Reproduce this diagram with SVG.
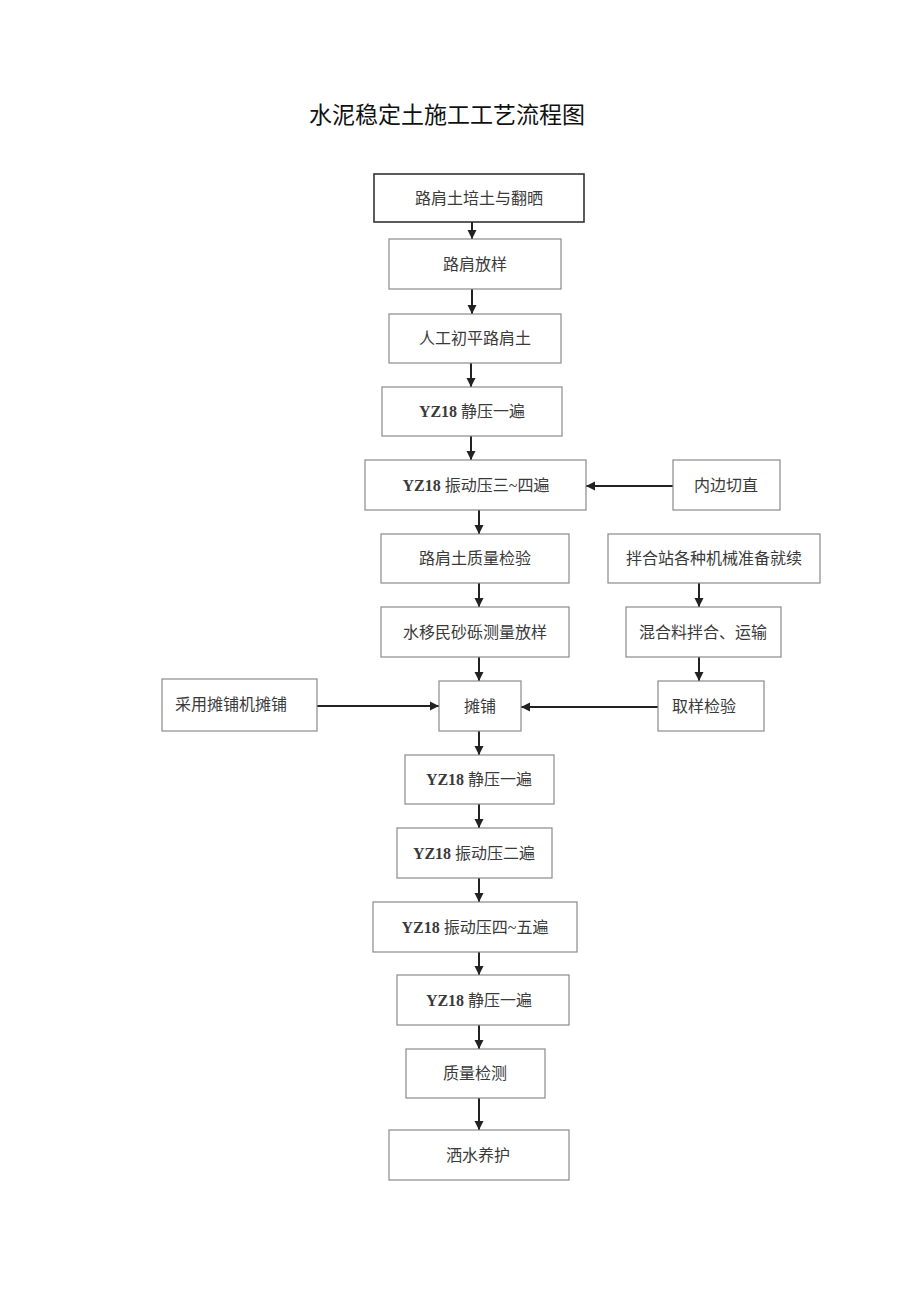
<svg xmlns="http://www.w3.org/2000/svg" width="920" height="1301" viewBox="0 0 920 1301">
<defs>
<marker id="ah" markerUnits="userSpaceOnUse" markerWidth="10" markerHeight="10" refX="9" refY="5" orient="auto">
<path d="M0,0.5 L9,5 L0,9.5 Z" fill="#222"/>
</marker>
<style>
.box{fill:#fff;stroke:#8a8a8a;stroke-width:1.2}
.dark{stroke:#333;stroke-width:1.6}
.t{font-family:"Liberation Serif","Noto Sans CJK SC",serif;font-size:16px;fill:#3a3a3a;text-anchor:middle;dominant-baseline:central}
.b{font-weight:bold}
.title{font-family:"Noto Sans CJK SC","Liberation Sans",sans-serif;font-size:23px;fill:#111;text-anchor:middle;dominant-baseline:central}
.c{stroke:#222;stroke-width:2;fill:none;marker-end:url(#ah)}
</style>
</defs>
<rect width="920" height="1301" fill="#fff"/>
<text class="title" x="447" y="113">水泥稳定土施工工艺流程图</text>

<g id="connectors">
<line class="c" x1="472" y1="222" x2="472" y2="239"/>
<line class="c" x1="472" y1="289" x2="472" y2="314"/>
<line class="c" x1="471" y1="363" x2="471" y2="387"/>
<line class="c" x1="471" y1="436" x2="471" y2="460"/>
<line class="c" x1="673" y1="486" x2="586" y2="486"/>
<line class="c" x1="479" y1="510" x2="479" y2="534"/>
<line class="c" x1="479" y1="583" x2="479" y2="607"/>
<line class="c" x1="479" y1="657" x2="479" y2="681"/>
<line class="c" x1="699" y1="583" x2="699" y2="607"/>
<line class="c" x1="699" y1="657" x2="699" y2="681"/>
<line class="c" x1="317" y1="706" x2="439" y2="706"/>
<line class="c" x1="658" y1="707" x2="521" y2="707"/>
<line class="c" x1="479" y1="731" x2="479" y2="755"/>
<line class="c" x1="479" y1="804" x2="479" y2="828"/>
<line class="c" x1="479" y1="878" x2="479" y2="902"/>
<line class="c" x1="479" y1="952" x2="479" y2="975"/>
<line class="c" x1="479" y1="1025" x2="479" y2="1049"/>
<line class="c" x1="479" y1="1098" x2="479" y2="1130"/>
</g>

<g id="n1"><rect class="box dark" x="374" y="174" width="210" height="48"/><text class="t" x="479" y="198">路肩土培土与翻晒</text></g>
<g id="n2"><rect class="box" x="389" y="239" width="172" height="50"/><text class="t" x="475" y="264">路肩放样</text></g>
<g id="n3"><rect class="box" x="389" y="314" width="172" height="49"/><text class="t" x="475" y="338">人工初平路肩土</text></g>
<g id="n4"><rect class="box" x="382" y="387" width="180" height="49"/><text class="t" x="472" y="411"><tspan class="b">YZ18</tspan> 静压一遍</text></g>
<g id="n5"><rect class="box" x="365" y="460" width="221" height="50"/><text class="t" x="476" y="485"><tspan class="b">YZ18</tspan> 振动压三~四遍</text></g>
<g id="n6"><rect class="box" x="673" y="460" width="107" height="50"/><text class="t" x="726" y="485">内边切直</text></g>
<g id="n7"><rect class="box" x="381" y="534" width="188" height="49"/><text class="t" x="475" y="558">路肩土质量检验</text></g>
<g id="n8"><rect class="box" x="608" y="534" width="212" height="49"/><text class="t" x="714" y="558">拌合站各种机械准备就续</text></g>
<g id="n9"><rect class="box" x="381" y="607" width="188" height="50"/><text class="t" x="475" y="632">水移民砂砾测量放样</text></g>
<g id="n10"><rect class="box" x="626" y="607" width="155" height="50"/><text class="t" x="703" y="632">混合料拌合、运输</text></g>
<g id="n11"><rect class="box" x="162" y="679" width="155" height="52"/><text class="t" x="231" y="704">采用摊铺机摊铺</text></g>
<g id="n12"><rect class="box" x="439" y="681" width="82" height="50"/><text class="t" x="480" y="706">摊铺</text></g>
<g id="n13"><rect class="box" x="658" y="681" width="106" height="50"/><text class="t" x="704" y="706">取样检验</text></g>
<g id="n14"><rect class="box" x="405" y="755" width="149" height="49"/><text class="t" x="479" y="779"><tspan class="b">YZ18</tspan> 静压一遍</text></g>
<g id="n15"><rect class="box" x="397" y="828" width="155" height="50"/><text class="t" x="474" y="853"><tspan class="b">YZ18</tspan> 振动压二遍</text></g>
<g id="n16"><rect class="box" x="373" y="902" width="204" height="50"/><text class="t" x="475" y="927"><tspan class="b">YZ18</tspan> 振动压四~五遍</text></g>
<g id="n17"><rect class="box" x="397" y="975" width="172" height="50"/><text class="t" x="479" y="1000"><tspan class="b">YZ18</tspan> 静压一遍</text></g>
<g id="n18"><rect class="box" x="406" y="1049" width="139" height="49"/><text class="t" x="475" y="1073">质量检测</text></g>
<g id="n19"><rect class="box" x="389" y="1130" width="180" height="50"/><text class="t" x="478" y="1155">洒水养护</text></g>
</svg>
